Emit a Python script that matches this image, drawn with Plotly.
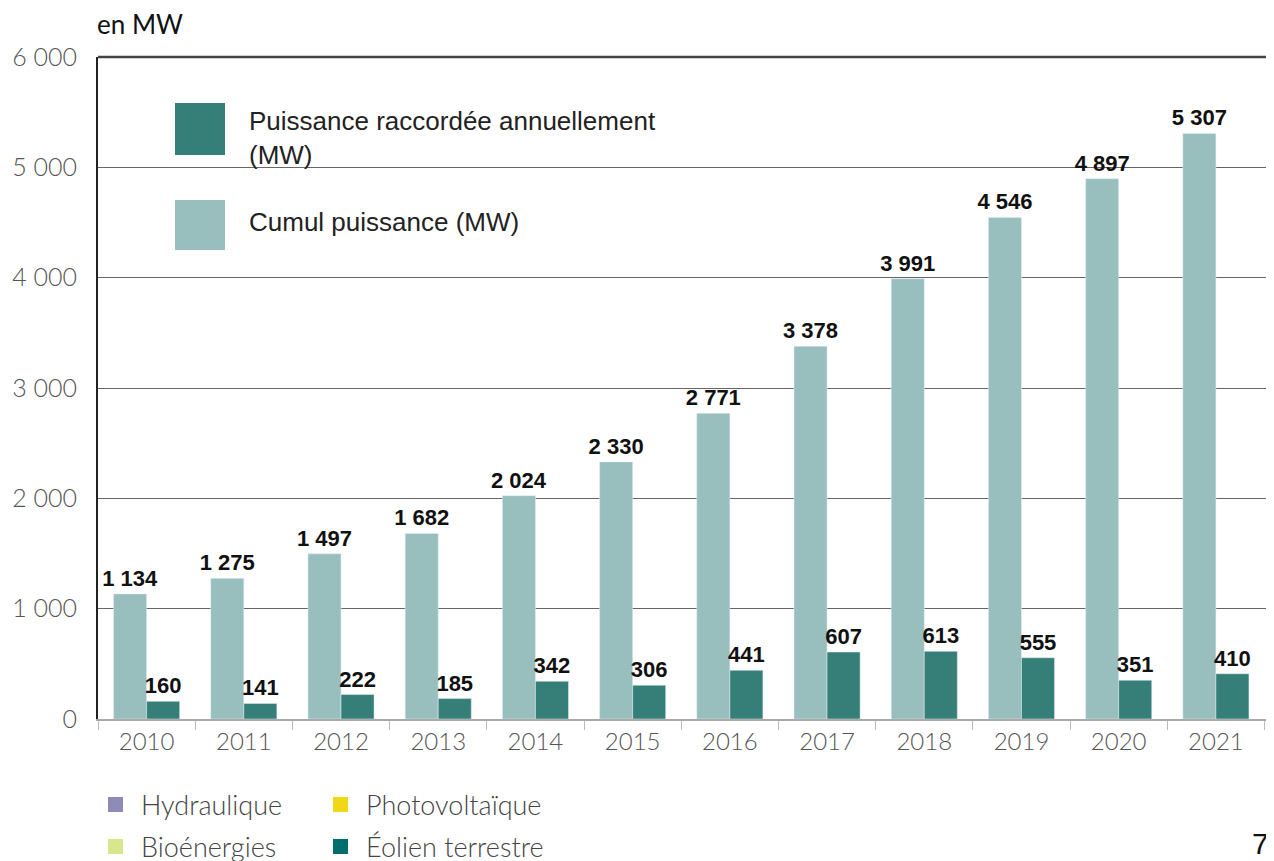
import plotly.graph_objects as go

# data
years = ["2010", "2011", "2012", "2013", "2014", "2015",
         "2016", "2017", "2018", "2019", "2020", "2021"]
cumul_mw = [1134, 1275, 1497, 1682, 2024, 2330, 2771, 3378, 3991, 4546, 4897, 5307]
annuel_mw = [160, 141, 222, 185, 342, 306, 441, 607, 613, 555, 351, 410]

legend_labels = ["Puissance raccordée annuellement<br>(MW)", "Cumul puissance (MW)"]
filiere_labels = ["Hydraulique", "Photovoltaïque", "Bioénergies", "Éolien terrestre"]
filiere_colors = ["#8f8bb8", "#f0d818", "#d8e68e", "#006e6c"]

C_CUMUL = "#98bfbe"
C_ANNUEL = "#367f78"

W, H = 1274, 861
OFF = 8  # page body margin around the figure
L, R, T, B = 98 - OFF, 0, 57 - OFF, H - (719 - OFF)
PW, PH = W - L - R, H - T - B


def fmt(v):
    return f"{v:,}".replace(",", " ")


# helpers: page pixels -> paper (plot area) fractions
def px_x(x):
    return (x - OFF - L) / PW


def px_y(y):
    return (H - B - (y - OFF)) / PH


fig = go.Figure()
fig.add_trace(go.Bar(
    x=years, y=cumul_mw, marker_color=C_CUMUL, name="Cumul",
    text=[fmt(v) for v in cumul_mw], texttemplate="<b>%{text}</b>",
    textposition="outside", cliponaxis=False, constraintext="none",
    textfont=dict(family="Liberation Sans", size=22, color="#111"),
))
fig.add_trace(go.Bar(
    x=years, y=annuel_mw, marker_color=C_ANNUEL, name="Annuel",
    text=[fmt(v) for v in annuel_mw], texttemplate="<b>%{text}</b>",
    textposition="outside", cliponaxis=False, constraintext="none",
    textfont=dict(family="Liberation Sans", size=22, color="#111"),
))

shapes = []
annotations = []

# darker frame line on top of the plot
shapes.append(dict(type="line", xref="paper", yref="paper", x0=0, x1=1, y0=1, y1=1,
                   line=dict(color="#444", width=2.5)))

# legend box (white, hides the grid behind it)
shapes.append(dict(type="rect", xref="paper", yref="paper", layer="below",
                   x0=px_x(150), x1=px_x(720), y0=px_y(252), y1=px_y(86),
                   fillcolor="white", line_width=0))
for (y0, y1), col, lab, ty in [((103, 155), C_ANNUEL, legend_labels[0], 138),
                               ((200, 250), C_CUMUL, legend_labels[1], 222)]:
    shapes.append(dict(type="rect", xref="paper", yref="paper",
                       x0=px_x(175), x1=px_x(225), y0=px_y(y1), y1=px_y(y0),
                       fillcolor=col, line_width=0))
    annotations.append(dict(xref="paper", yref="paper", x=px_x(247), y=px_y(ty),
                            text=lab, showarrow=False, xanchor="left", yanchor="middle",
                            align="left",
                            font=dict(family="Liberation Sans", size=26, color="#222")))

# filières legend at the bottom
pos = [(108, 804), (333, 804), (108, 846), (333, 846)]
for (x, y), lab, col in zip(pos, filiere_labels, filiere_colors):
    shapes.append(dict(type="rect", xref="paper", yref="paper",
                       x0=px_x(x), x1=px_x(x + 15), y0=px_y(y + 8), y1=px_y(y - 7),
                       fillcolor=col, line_width=0))
    annotations.append(dict(xref="paper", yref="paper", x=px_x(x + 31), y=px_y(y),
                            text=lab, showarrow=False, xanchor="left", yanchor="middle",
                            font=dict(family="Lato", size=27, color="#444", weight=300)))

annotations.append(dict(xref="paper", yref="paper", x=px_x(95), y=px_y(24),
                        text="en MW", showarrow=False, xanchor="left", yanchor="middle",
                        font=dict(family="Lato", size=26, color="#111")))
# page number, cut at the right edge as in the source
annotations.append(dict(xref="paper", yref="paper", x=px_x(1250), y=px_y(843),
                        text="7", showarrow=False, xanchor="left", yanchor="middle",
                        font=dict(family="Liberation Sans", size=30, color="#111")))

fig.update_layout(
    width=W, height=H,
    margin=dict(l=L, r=R, t=T, b=B, autoexpand=False),
    paper_bgcolor="white", plot_bgcolor="white",
    barmode="group", bargap=0.32, bargroupgap=0,
    showlegend=False, separators=", ",
    shapes=shapes, annotations=annotations,
)
fig.update_xaxes(
    range=[-0.5, 11.68], showline=True, linecolor="#aaa", linewidth=2,
    ticks="outside", tickson="boundaries", ticklen=9, tickcolor="#bbb",
    showgrid=False, automargin=False,
    tickfont=dict(family="Lato", size=24, color="#555", weight=300),
)
fig.update_yaxes(
    range=[0, 6000], dtick=1000, tickformat=",d",
    showline=True, linecolor="#222", linewidth=2,
    showgrid=True, gridcolor="#666", gridwidth=1.2, zeroline=False,
    ticks="", ticklabelstandoff=14, automargin=False,
    tickfont=dict(family="Lato", size=25, color="#555", weight=300),
)

fig.write_html("out.html")
